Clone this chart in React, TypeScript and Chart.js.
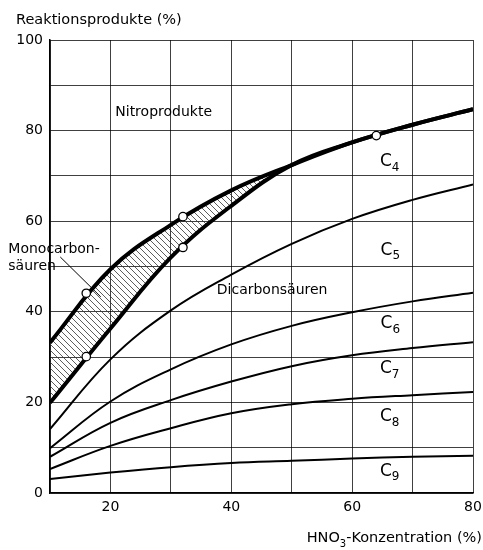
import React, { useEffect, useRef } from 'react';
import { Chart, registerables } from 'chart.js';

Chart.register(...registerables);

// ---- data ----
const xValues = [10, 20, 30, 40, 50, 60, 70, 80];
const upperMono = [33.2, 49.4, 59.2, 66.8, 72.4, 77.4, 81.3, 84.7];
const lowerMono = [19.9, 36.3, 52.0, 63.4, 72.4, 77.4, 81.3, 84.7];
const c5Top = [14.1, 29.5, 40.3, 48.2, 55.0, 60.5, 64.7, 68.1];
const c6Top = [9.9, 20.2, 27.3, 32.8, 36.9, 39.9, 42.3, 44.2];
const c7Top = [8.0, 15.5, 20.5, 24.6, 28.0, 30.4, 32.0, 33.3];
const c8Top = [5.3, 10.4, 14.3, 17.6, 19.6, 20.8, 21.6, 22.3];
const c9Top = [3.1, 4.5, 5.7, 6.6, 7.1, 7.6, 8.0, 8.2];
const markerX = [16, 32, 16, 32, 64];
const markerY = [44.1, 61.0, 30.1, 54.2, 78.9];
const xTickLabels = [20, 40, 60, 80];
const yTickLabels = [0, 20, 40, 60, 80, 100];

const yTitle = 'Reaktionsprodukte (%)';
const xTitleMain = 'HNO';
const xTitleSub = '3';
const xTitleRest = '-Konzentration (%)';

type Lbl = { text: string; sub?: string; x: number; y: number; size: number };
const regionLabels: Lbl[] = [
  { text: 'Nitroprodukte', x: 20.8, y: 84.1, size: 14 },
  { text: 'Dicarbonsäuren', x: 37.6, y: 44.8, size: 14 },
  { text: 'Monocarbon-', x: 3.1, y: 53.7, size: 14 },
  { text: 'säuren', x: 3.1, y: 50.0, size: 14 },
  { text: 'C', sub: '4', x: 64.6, y: 73.1, size: 17 },
  { text: 'C', sub: '5', x: 64.7, y: 53.6, size: 17 },
  { text: 'C', sub: '6', x: 64.7, y: 37.4, size: 17 },
  { text: 'C', sub: '7', x: 64.6, y: 27.5, size: 17 },
  { text: 'C', sub: '8', x: 64.6, y: 16.8, size: 17 },
  { text: 'C', sub: '9', x: 64.6, y: 4.8, size: 17 },
];
const leader = { x1: 11.7, y1: 52.1, x2: 18.4, y2: 43.3 };

const FONT = '"DejaVu Sans", sans-serif';

function pts(ys: number[]) {
  return xValues.map((x, i) => ({ x, y: ys[i] }));
}

export default function App() {
  const ref = useRef<HTMLCanvasElement | null>(null);

  useEffect(() => {
    document.body.style.margin = '0';
    document.body.style.overflow = 'hidden';
    const canvas = ref.current!;

    const pc = document.createElement('canvas');
    pc.width = 6;
    pc.height = 6;
    const p = pc.getContext('2d')!;
    p.strokeStyle = '#333';
    p.lineWidth = 0.8;
    p.beginPath();
    p.moveTo(-1, -1); p.lineTo(7, 7);
    p.moveTo(-1, 5); p.lineTo(1, 7);
    p.moveTo(5, -1); p.lineTo(7, 1);
    p.stroke();
    const pattern = canvas.getContext('2d')!.createPattern(pc, 'repeat')!;

    const annot = {
      id: 'annot',
      afterDatasetsDraw(chart: any) {
        const { ctx, scales } = chart;
        const xs = scales.x, ys = scales.y;
        ctx.save();
        ctx.fillStyle = '#000';
        ctx.textBaseline = 'middle';
        ctx.textAlign = 'left';
        for (const l of regionLabels) {
          const px = xs.getPixelForValue(l.x);
          const py = ys.getPixelForValue(l.y);
          ctx.font = `${l.size}px ${FONT}`;
          ctx.fillText(l.text, px, py);
          if (l.sub) {
            const w = ctx.measureText(l.text).width;
            ctx.font = `${Math.round(l.size * 0.7)}px ${FONT}`;
            ctx.fillText(l.sub, px + w, py + 6);
          }
        }
        ctx.strokeStyle = '#000';
        ctx.lineWidth = 1;
        ctx.beginPath();
        ctx.moveTo(xs.getPixelForValue(leader.x1), ys.getPixelForValue(leader.y1));
        ctx.lineTo(xs.getPixelForValue(leader.x2), ys.getPixelForValue(leader.y2));
        ctx.stroke();
        ctx.restore();
      },
      afterDraw(chart: any) {
        const { ctx } = chart;
        ctx.save();
        ctx.fillStyle = '#000';
        ctx.textBaseline = 'middle';
        ctx.textAlign = 'left';
        ctx.font = `14.5px ${FONT}`;
        ctx.fillText(yTitle, 16, 20);
        const f = `14.5px ${FONT}`;
        const fs = `10px ${FONT}`;
        ctx.font = f;
        const w1 = ctx.measureText(xTitleMain).width;
        const w3 = ctx.measureText(xTitleRest).width;
        ctx.font = fs;
        const w2 = ctx.measureText(xTitleSub).width;
        const right = 482;
        const x0 = right - (w1 + w2 + w3);
        const yT = 538;
        ctx.font = f;
        ctx.fillText(xTitleMain, x0, yT);
        ctx.font = fs;
        ctx.fillText(xTitleSub, x0 + w1, yT + 6);
        ctx.font = f;
        ctx.fillText(xTitleRest, x0 + w1 + w2, yT);
        ctx.restore();
      },
    };

    const thin = { borderColor: '#000', borderWidth: 2, pointRadius: 0, fill: false, tension: 0.4 };
    const thick = { borderColor: '#000', borderWidth: 4, pointRadius: 0, tension: 0.4 };

    const chart = new Chart(canvas, {
      type: 'line',
      data: {
        datasets: [
          { ...thick, data: pts(upperMono), fill: false },
          { ...thick, data: pts(lowerMono), fill: { target: 0 }, backgroundColor: pattern },
          { ...thin, data: pts(c5Top) },
          { ...thin, data: pts(c6Top) },
          { ...thin, data: pts(c7Top) },
          { ...thin, data: pts(c8Top) },
          { ...thin, data: pts(c9Top) },
          {
            type: 'scatter' as any,
            order: -1,
            data: markerX.map((x, i) => ({ x, y: markerY[i] })),
            showLine: false,
            pointRadius: 4.2,
            pointBorderWidth: 1.3,
            pointBackgroundColor: '#fff',
            pointBorderColor: '#000',
          } as any,
        ],
      },
      options: {
        responsive: false,
        animation: false,
        layout: { padding: { top: 40, right: 10, left: 0, bottom: 0 } },
        plugins: { legend: { display: false }, tooltip: { enabled: false }, title: { display: false } },
        scales: {
          x: {
            type: 'linear',
            min: 10,
            max: 80,
            afterFit: (s: any) => { s.height = 57; s.paddingRight = 0; s.paddingLeft = 0; },
            border: { display: true, color: '#000', width: 1.5 },
            grid: { color: 'rgba(0,0,0,0.75)', lineWidth: 1, drawTicks: false },
            ticks: {
              stepSize: 10,
              padding: 6,
              color: '#000',
              font: { family: FONT, size: 14 },
              maxRotation: 0,
              autoSkip: false,
              callback: (v: any) => (xTickLabels.includes(Number(v)) ? String(v) : ''),
            },
          },
          y: {
            min: 0,
            max: 100,
            afterFit: (s: any) => { s.width = 50; s.paddingTop = 0; s.paddingBottom = 0; },
            border: { display: true, color: '#000', width: 1.5 },
            grid: { color: 'rgba(0,0,0,0.75)', lineWidth: 1, drawTicks: false },
            ticks: {
              stepSize: 10,
              padding: 7,
              color: '#000',
              font: { family: FONT, size: 14 },
              autoSkip: false,
              callback: (v: any) => (yTickLabels.includes(Number(v)) ? String(v) : ''),
            },
          },
        },
      },
      plugins: [annot],
    });
    return () => chart.destroy();
  }, []);

  return <canvas ref={ref} width={483} height={550} style={{ display: 'block' }} />;
}
